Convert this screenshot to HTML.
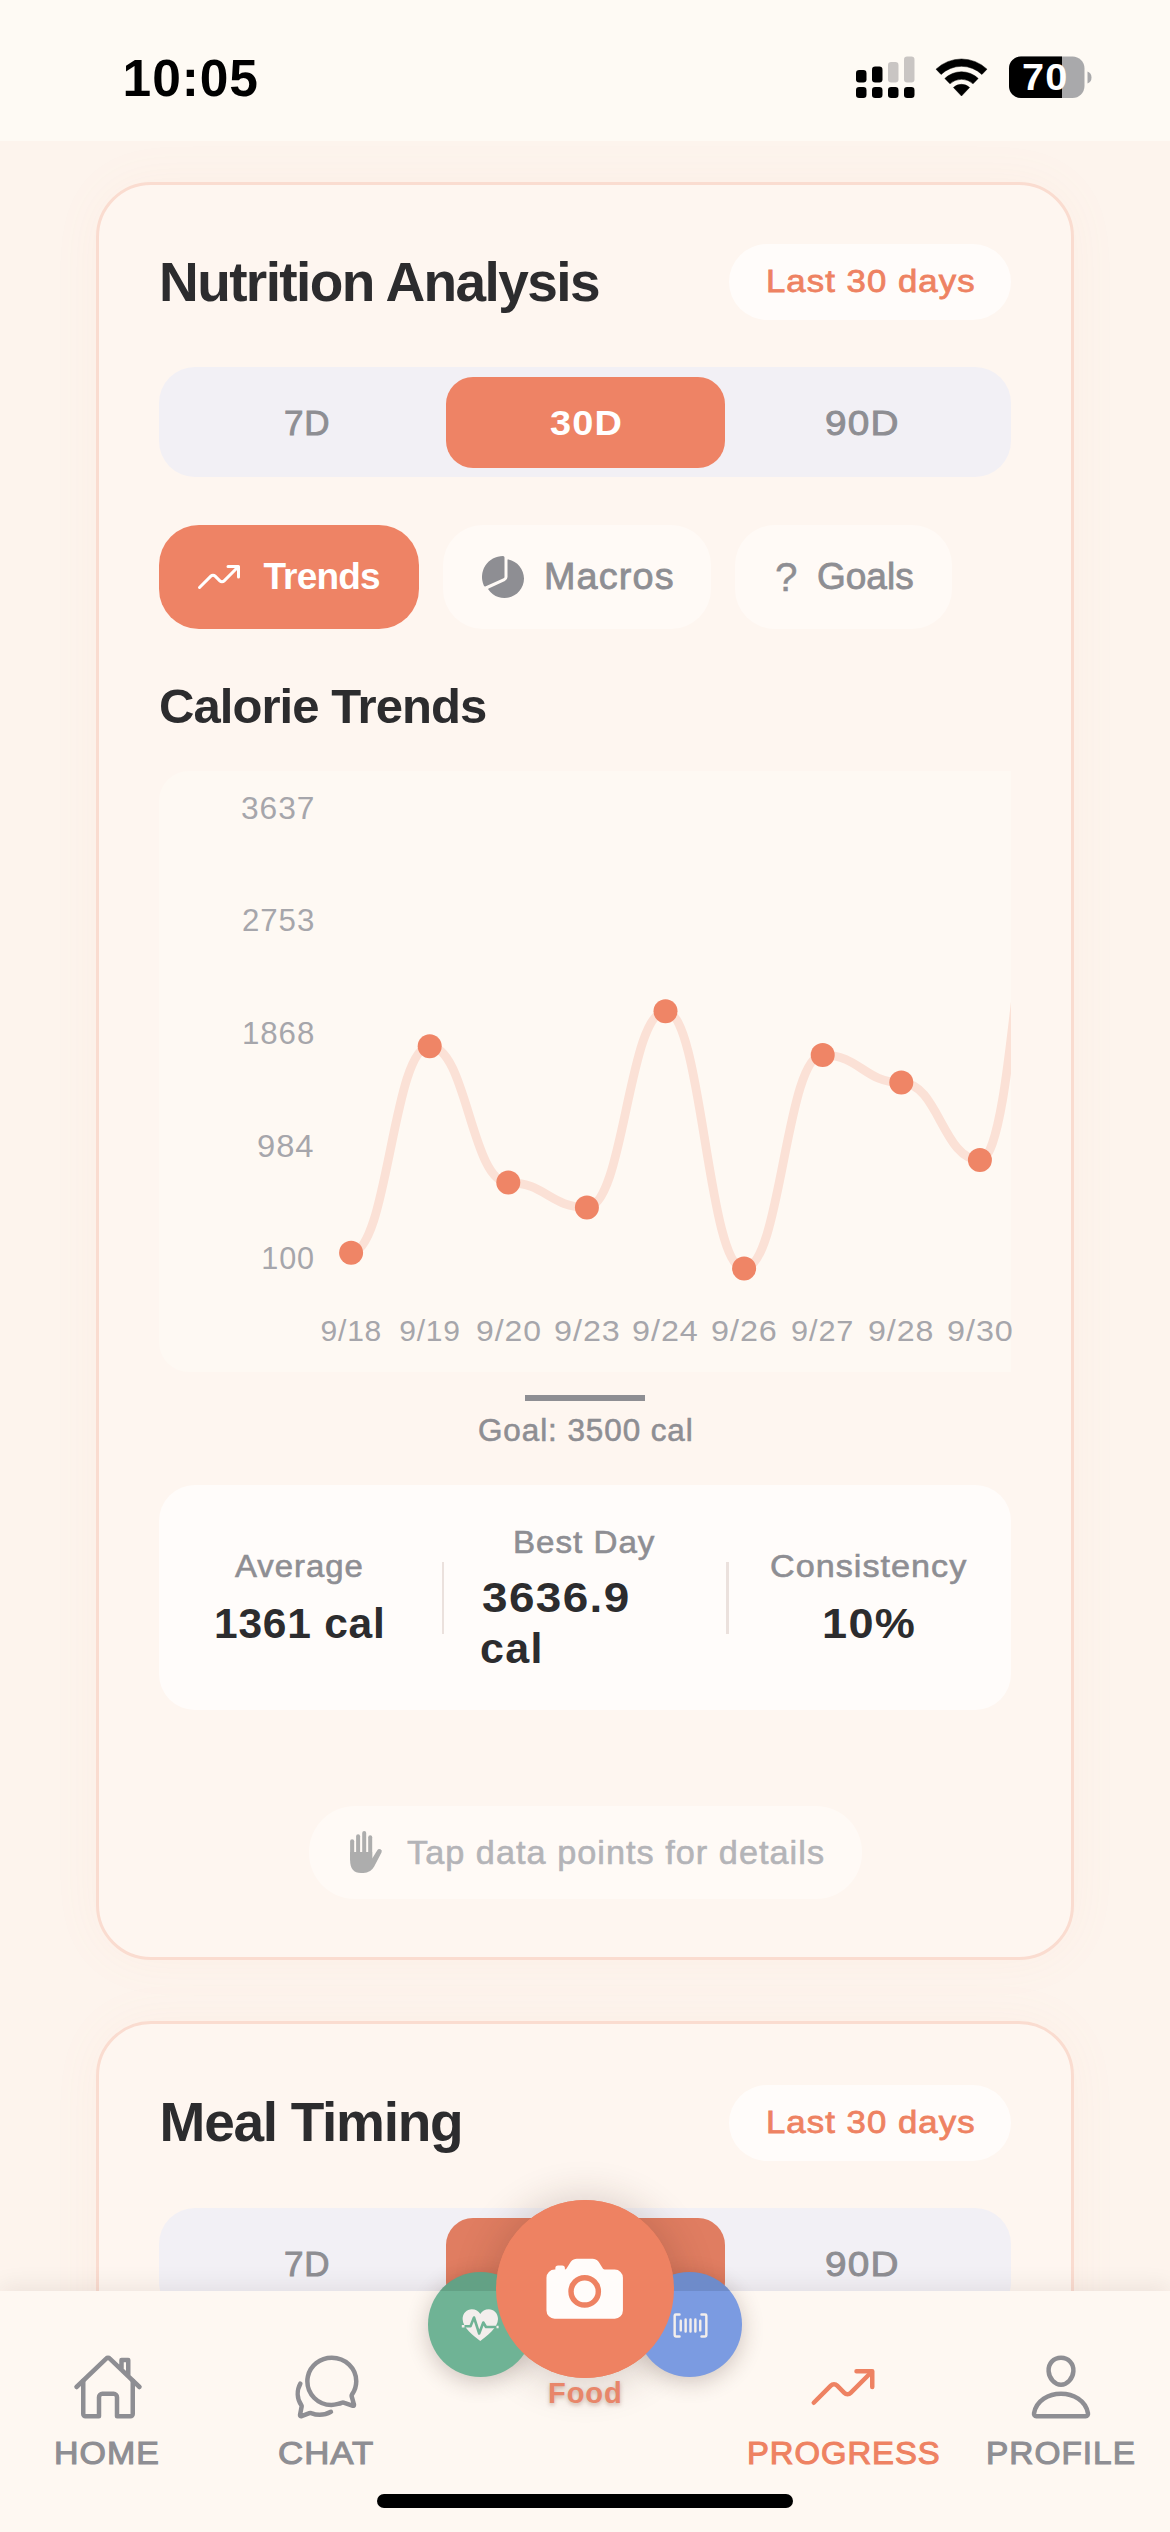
<!DOCTYPE html>
<html><head><meta charset="utf-8">
<style>
*{box-sizing:border-box;margin:0;padding:0}
html,body{width:1170px;height:2532px;overflow:hidden;background:#fdf4ed;font-family:"Liberation Sans",sans-serif}
.abs{position:absolute}
.t{position:absolute;white-space:nowrap;transform-origin:0 50%}
#screen{position:absolute;left:0;top:0;width:1170px;height:2532px;overflow:hidden;background:#fdf4ed}
#status{position:absolute;left:0;top:0;width:1170px;height:141px;background:#fefaf4}
.card{position:absolute;left:96px;width:978px;border:3px solid #fadcd0;border-radius:55px;background:#fef6f0;box-shadow:0 0 50px rgba(240,150,110,0.055)}
.pill{position:absolute;background:#fffcfa}
.seg{position:absolute;left:159px;width:852px;height:110px;border-radius:36px;background:#f2f0f5}
.segact{position:absolute;left:446px;width:278.5px;height:91px;border-radius:27px;background:#ee8365}
#tabbar{position:absolute;left:0;top:2291px;width:1170px;height:241px;background:#fef8f2;box-shadow:0 -5px 22px rgba(40,20,10,0.075)}
</style></head>
<body>
<div id="screen">
<div id="status"></div>
<svg class="abs" style="left:0;top:0" width="1170" height="141" viewBox="0 0 1170 141">
<g fill="#000">
<rect x="856" y="87" width="10.5" height="11" rx="3.2"/><rect x="872" y="87" width="10.5" height="11" rx="3.2"/><rect x="888" y="87" width="10.5" height="11" rx="3.2"/><rect x="904" y="87" width="10.5" height="11" rx="3.2"/>
<rect x="856" y="70" width="10.5" height="12.5" rx="3.2"/><rect x="872" y="66.5" width="10.5" height="16" rx="3.2"/>
</g>
<g fill="#c9c5c3"><rect x="888" y="62" width="10.5" height="20.5" rx="3.2"/><rect x="904" y="56.5" width="10.5" height="26" rx="3.2"/></g>
<path d="M936.03,69.16 A37,37 0 0 1 986.97,69.16 L981.94,74.46 A29.7,29.7 0 0 0 941.06,74.46 Z M944.84,78.45 A24.2,24.2 0 0 1 978.16,78.45 L973.06,83.81 A16.8,16.8 0 0 0 949.94,83.81 Z M961.50,96.00 L953.45,87.51 A11.7,11.7 0 0 1 969.55,87.51 Z" fill="#000" stroke="#000" stroke-width="0.5" stroke-linejoin="round"/>
<rect x="1009" y="56.5" width="75.5" height="41.5" rx="12" fill="#a9a9ab"/>
<path d="M1021,56.5 H1062 V98 H1021 A12,12 0 0 1 1009,86 V68.5 A12,12 0 0 1 1021,56.5 Z" fill="#000"/>
<path d="M1087.5,71.5 Q1091.5,73 1091.5,77.5 Q1091.5,82 1087.5,83.5 Z" fill="#a9a9ab"/>
</svg>

<!-- card 1 -->
<div class="card" style="top:181.5px;height:1778.5px"></div>
<div class="pill" style="left:729px;top:244px;width:282px;height:76px;border-radius:38px"></div>
<div class="seg" style="top:367px"></div>
<div class="segact" style="top:377px"></div>
<!-- tabs -->
<div class="abs" style="left:159px;top:525px;width:260px;height:104px;border-radius:40px;background:#ee8365"></div>
<div class="abs" style="left:442.7px;top:525px;width:268.3px;height:104px;border-radius:40px;background:#fffaf6"></div>
<div class="abs" style="left:734.6px;top:525px;width:217.2px;height:104px;border-radius:40px;background:#fffaf6"></div>
<!-- chart box -->
<div class="abs" style="left:159px;top:771px;width:852px;height:601px;border-radius:30px 0 0 30px;background:#fef9f3"></div>
<svg class="abs" style="left:159px;top:771px" width="852" height="601" viewBox="159 771 852 601"><path d="M351.1,1252.7 C388.0,1252.7 392.8,1046.3 429.7,1046.3 C466.6,1046.3 471.4,1182.6 508.3,1182.6 C545.2,1182.6 550.0,1207.4 586.9,1207.4 C623.8,1207.4 628.6,1011.3 665.5,1011.3 C702.4,1011.3 707.2,1268.5 744.1,1268.5 C781.0,1268.5 785.8,1054.9 822.7,1054.9 C859.6,1054.9 864.4,1082.6 901.3,1082.6 C938.2,1082.6 943.0,1160.0 979.9,1160.0 C1016.8,1160.0 1021.6,775.0 1058.5,775.0" fill="none" stroke="#fbe1d6" stroke-width="8.8" stroke-linecap="round" stroke-linejoin="round"/><circle cx="351.1" cy="1252.7" r="12" fill="#ef8566"/><circle cx="429.7" cy="1046.3" r="12" fill="#ef8566"/><circle cx="508.3" cy="1182.6" r="12" fill="#ef8566"/><circle cx="586.9" cy="1207.4" r="12" fill="#ef8566"/><circle cx="665.5" cy="1011.3" r="12" fill="#ef8566"/><circle cx="744.1" cy="1268.5" r="12" fill="#ef8566"/><circle cx="822.7" cy="1054.9" r="12" fill="#ef8566"/><circle cx="901.3" cy="1082.6" r="12" fill="#ef8566"/><circle cx="979.9" cy="1160.0" r="12" fill="#ef8566"/></svg>
<!-- goal legend -->
<div class="abs" style="left:525px;top:1394.5px;width:120px;height:6.5px;background:#8e8e93"></div>
<!-- stats card -->
<div class="abs" style="left:159px;top:1485px;width:852px;height:225px;border-radius:36px;background:#fffcfa"></div>
<div class="abs" style="left:441.5px;top:1562px;width:2.5px;height:72px;background:#ebe1dd"></div>
<div class="abs" style="left:726px;top:1562px;width:2.5px;height:72px;background:#ebe1dd"></div>
<!-- tap hint -->
<div class="abs" style="left:309px;top:1806px;width:552.5px;height:92.5px;border-radius:46px;background:#fffaf6"></div>

<!-- card 2 -->
<div class="card" style="top:2021px;height:700px"></div>
<div class="pill" style="left:729px;top:2085px;width:282px;height:76px;border-radius:38px"></div>
<div class="seg" style="top:2208px"></div>
<div class="segact" style="top:2218px;background:#e07d61"></div>

<div class="t" style="left:122.60px;top:47.46px;font-size:51.5px;line-height:62px;font-weight:700;color:#000;letter-spacing:0.91px;">10:05</div>
<div class="t" style="left:1022.24px;top:55.21px;font-size:37.5px;line-height:45px;font-weight:700;color:#fff;letter-spacing:1.12px;transform:scaleX(1.059);">70</div>
<div class="t" style="left:159.00px;top:248.94px;font-size:55px;line-height:66px;font-weight:700;color:#2c2c2e;letter-spacing:-1.59px;">Nutrition Analysis</div>
<div class="t" style="left:765.71px;top:262.48px;font-size:31.8px;line-height:39px;font-weight:400;color:#ee8262;letter-spacing:0.95px;-webkit-text-stroke:0.8px #ee8262;transform:scaleX(1.0932);">Last 30 days</div>
<div class="t" style="left:283.90px;top:402.37px;font-size:35px;line-height:42px;font-weight:400;color:#8e8e93;letter-spacing:0.93px;-webkit-text-stroke:0.9px #8e8e93;">7D</div>
<div class="t" style="left:550.00px;top:402.37px;font-size:35px;line-height:42px;font-weight:700;color:#fff;letter-spacing:1.05px;transform:scaleX(1.0841);">30D</div>
<div class="t" style="left:825.19px;top:402.37px;font-size:35px;line-height:42px;font-weight:400;color:#8e8e93;letter-spacing:1.05px;-webkit-text-stroke:0.9px #8e8e93;transform:scaleX(1.1073);">90D</div>
<div class="t" style="left:263.40px;top:554.18px;font-size:37px;line-height:45px;font-weight:700;color:#fff;letter-spacing:-0.83px;">Trends</div>
<div class="t" style="left:544.44px;top:554.18px;font-size:37px;line-height:45px;font-weight:400;color:#8e8e93;letter-spacing:1.11px;-webkit-text-stroke:0.8px #8e8e93;transform:scaleX(1.0215);">Macros</div>
<div class="t" style="left:774.59px;top:553.14px;font-size:40px;line-height:48px;font-weight:400;color:#8e8e93;letter-spacing:0px;-webkit-text-stroke:0.4px #8e8e93;transform:scaleX(1.01);">?</div>
<div class="t" style="left:816.90px;top:554.18px;font-size:37px;line-height:45px;font-weight:400;color:#8e8e93;letter-spacing:0.06px;-webkit-text-stroke:0.8px #8e8e93;">Goals</div>
<div class="t" style="left:159.00px;top:676.52px;font-size:49px;line-height:59px;font-weight:700;color:#2c2c2e;letter-spacing:-0.93px;">Calorie Trends</div>
<div class="t" style="left:240.66px;top:789.80px;font-size:30.6px;line-height:37px;font-weight:400;color:#a6a6ab;letter-spacing:0.92px;transform:scaleX(1.0364);">3637</div>
<div class="t" style="left:241.78px;top:902.40px;font-size:30.6px;line-height:37px;font-weight:400;color:#a6a6ab;letter-spacing:0.92px;transform:scaleX(1.0204);">2753</div>
<div class="t" style="left:241.76px;top:1015.00px;font-size:30.6px;line-height:37px;font-weight:400;color:#a6a6ab;letter-spacing:0.92px;transform:scaleX(1.0207);">1868</div>
<div class="t" style="left:256.53px;top:1127.60px;font-size:30.6px;line-height:37px;font-weight:400;color:#a6a6ab;letter-spacing:0.92px;transform:scaleX(1.0681);">984</div>
<div class="t" style="left:261.30px;top:1240.20px;font-size:30.6px;line-height:37px;font-weight:400;color:#a6a6ab;letter-spacing:0.84px;">100</div>
<div class="t" style="left:320.60px;top:1313.20px;font-size:30px;line-height:36px;font-weight:400;color:#a6a6ab;letter-spacing:0.77px;">9/18</div>
<div class="t" style="left:399.20px;top:1313.20px;font-size:30px;line-height:36px;font-weight:400;color:#a6a6ab;letter-spacing:0.77px;">9/19</div>
<div class="t" style="left:475.64px;top:1313.20px;font-size:30px;line-height:36px;font-weight:400;color:#a6a6ab;letter-spacing:0.9px;transform:scaleX(1.0639);">9/20</div>
<div class="t" style="left:553.82px;top:1313.20px;font-size:30px;line-height:36px;font-weight:400;color:#a6a6ab;letter-spacing:0.9px;transform:scaleX(1.0774);">9/23</div>
<div class="t" style="left:632.42px;top:1313.20px;font-size:30px;line-height:36px;font-weight:400;color:#a6a6ab;letter-spacing:0.9px;transform:scaleX(1.0774);">9/24</div>
<div class="t" style="left:711.02px;top:1313.20px;font-size:30px;line-height:36px;font-weight:400;color:#a6a6ab;letter-spacing:0.9px;transform:scaleX(1.0774);">9/26</div>
<div class="t" style="left:791.33px;top:1313.20px;font-size:30px;line-height:36px;font-weight:400;color:#a6a6ab;letter-spacing:0.9px;transform:scaleX(1.0218);">9/27</div>
<div class="t" style="left:868.38px;top:1313.20px;font-size:30px;line-height:36px;font-weight:400;color:#a6a6ab;letter-spacing:0.9px;transform:scaleX(1.0723);">9/28</div>
<div class="t" style="left:946.82px;top:1313.20px;font-size:30px;line-height:36px;font-weight:400;color:#a6a6ab;letter-spacing:0.9px;transform:scaleX(1.0774);">9/30</div>
<div class="t" style="left:477.89px;top:1412.26px;font-size:31px;line-height:38px;font-weight:400;color:#8e8e93;letter-spacing:0.93px;-webkit-text-stroke:0.6px #8e8e93;transform:scaleX(1.0128);">Goal: 3500 cal</div>
<div class="t" style="left:235.40px;top:1547.09px;font-size:31.5px;line-height:38px;font-weight:400;color:#8e8e93;letter-spacing:0.94px;-webkit-text-stroke:0.6px #8e8e93;transform:scaleX(1.0442);">Average</div>
<div class="t" style="left:214.00px;top:1597.77px;font-size:42.5px;line-height:51px;font-weight:700;color:#2c2c2e;letter-spacing:0.77px;">1361 cal</div>
<div class="t" style="left:512.50px;top:1522.79px;font-size:31.5px;line-height:38px;font-weight:400;color:#8e8e93;letter-spacing:0.94px;-webkit-text-stroke:0.6px #8e8e93;transform:scaleX(1.0523);">Best Day</div>
<div class="t" style="left:481.50px;top:1572.07px;font-size:42.5px;line-height:51px;font-weight:700;color:#2c2c2e;letter-spacing:1.27px;transform:scaleX(1.0794);">3636.9</div>
<div class="t" style="left:480.49px;top:1623.27px;font-size:42.5px;line-height:51px;font-weight:700;color:#2c2c2e;letter-spacing:1.27px;transform:scaleX(1.0117);">cal</div>
<div class="t" style="left:769.92px;top:1547.09px;font-size:31.5px;line-height:38px;font-weight:400;color:#8e8e93;letter-spacing:0.94px;-webkit-text-stroke:0.6px #8e8e93;transform:scaleX(1.0845);">Consistency</div>
<div class="t" style="left:821.88px;top:1597.77px;font-size:42.5px;line-height:51px;font-weight:700;color:#2c2c2e;letter-spacing:1.27px;transform:scaleX(1.061);">10%</div>
<div class="t" style="left:407.00px;top:1831.72px;font-size:34px;line-height:41px;font-weight:400;color:#b4b4b8;letter-spacing:1.02px;-webkit-text-stroke:0.6px #b4b4b8;transform:scaleX(1.0073);">Tap data points for details</div>
<div class="t" style="left:159.60px;top:2089.44px;font-size:55px;line-height:66px;font-weight:700;color:#2c2c2e;letter-spacing:-1.28px;">Meal Timing</div>
<div class="t" style="left:765.71px;top:2103.48px;font-size:31.8px;line-height:39px;font-weight:400;color:#ee8262;letter-spacing:0.95px;-webkit-text-stroke:0.8px #ee8262;transform:scaleX(1.0932);">Last 30 days</div>
<div class="t" style="left:283.90px;top:2243.37px;font-size:35px;line-height:42px;font-weight:400;color:#8e8e93;letter-spacing:0.93px;-webkit-text-stroke:0.9px #8e8e93;">7D</div>
<div class="t" style="left:825.19px;top:2243.37px;font-size:35px;line-height:42px;font-weight:400;color:#8e8e93;letter-spacing:1.05px;-webkit-text-stroke:0.9px #8e8e93;transform:scaleX(1.1073);">90D</div>

<svg class="abs" style="left:194.6px;top:553.2px" width="48" height="48" viewBox="0 0 512 512"><g fill="none" stroke="#fff" stroke-width="32" stroke-linecap="round" stroke-linejoin="round"><path d="M352 144h112v112" /><path d="M48 368l121.370-121.370a32 32 0 0145.260 0l50.740 50.740a32 32 0 0045.260 0L448 160"/></g></svg>
<svg class="abs" style="left:479.1px;top:552.9px" width="48" height="48" viewBox="0 0 512 512"><g fill="#8e8e93"><path d="M66.100 357a16 16 0 01-14.610-9.460A224 224 0 01256 32a16 16 0 0116 16v208a16 16 0 01-9.470 14.610l-189.900 84.950A15.930 15.930 0 0166.100 357z"/><path d="M313.590 68.180A8 8 0 00304 76v180a48.070 48.070 0 01-28.400 43.820L103.130 377.690a8 8 0 00-3.350 11.810 208.420 208.420 0 0048.460 50.410A206.320 206.320 0 00272 480c114.690 0 208-93.310 208-208 0-100.450-71.580-184.500-166.410-203.820z"/></g></svg>
<svg class="abs" style="left:340px;top:1820px" width="60" height="64" viewBox="340 1820 60 64"><g fill="#adadad">
<rect x="350.1" y="1839.2" width="4.1" height="22" rx="2.05"/>
<rect x="356.1" y="1834.2" width="4" height="26" rx="2"/>
<rect x="362.2" y="1831.1" width="4" height="28" rx="2"/>
<rect x="368.2" y="1835.3" width="4" height="26" rx="2"/>
<path d="M350.1,1852 H372.2 V1858.5 L377.3,1850.3 A2.3,2.3 0 0 1 381.5,1852.5 L374.2,1866.5 Q370.5,1873 363.5,1873 H361 Q350.1,1873 350.1,1860 Z"/>
</g></svg>

<!-- tab bar -->
<div id="tabbar"></div>
<div class="abs" style="left:495.6px;top:2199.7px;width:178px;height:178px;border-radius:50%;background:#ee8262;box-shadow:0 3px 40px 4px rgba(60,35,25,0.20)"></div>
<div class="abs" style="left:428.2px;top:2272.3px;width:104.6px;height:104.6px;border-radius:50%;background:#6fb395;box-shadow:0 5px 22px rgba(60,35,25,0.24)"></div>
<div class="abs" style="left:637.2px;top:2272.3px;width:104.6px;height:104.6px;border-radius:50%;background:#7b9be1;box-shadow:0 5px 22px rgba(60,35,25,0.24)"></div>
<div class="abs" style="left:428.2px;top:2272.3px;width:104.6px;height:18.7px;overflow:hidden"><div style="width:104.6px;height:104.6px;border-radius:50%;background:rgba(20,30,25,0.12)"></div></div>
<div class="abs" style="left:637.2px;top:2272.3px;width:104.6px;height:18.7px;overflow:hidden"><div style="width:104.6px;height:104.6px;border-radius:50%;background:rgba(20,25,40,0.12)"></div></div>
<svg class="abs" style="left:460px;top:2306px" width="42" height="38" viewBox="460 2306 42 38">
<path d="M480.3,2341 C474,2336 462.6,2328 462.6,2319 C462.6,2313 467,2309.2 471.8,2309.2 C475.5,2309.2 478.6,2311.2 480.3,2314 C482,2311.2 485.1,2309.2 488.8,2309.2 C493.6,2309.2 498,2313 498,2319 C498,2328 486.6,2336 480.3,2341 Z" fill="#f3eeec"/>
<path d="M461,2326.2 H470.5 L474,2317.5 L479.2,2333.5 L483.3,2322.5 L486,2327 H499.5" fill="none" stroke="#6fb395" stroke-width="2.6" stroke-linejoin="round" stroke-linecap="butt"/>
<path d="M461.8,2326.2 H464.5 M496.5,2327 H498.6" stroke="#f3eeec" stroke-width="2.6" fill="none"/>
</svg>
<svg class="abs" style="left:670.6px;top:2305.7px" width="39" height="39" viewBox="0 0 512 512"><g fill="none" stroke="#f3eeec" stroke-width="32" stroke-linecap="round" stroke-linejoin="round"><path d="M400 400h48a16 16 0 0016-16V128a16 16 0 00-16-16h-48M112 112H64a16 16 0 00-16 16v256a16 16 0 0016 16h48M384 192v128M320 176v160M256 176v160M192 176v160M128 192v128"/></g></svg>
<div class="abs" style="left:495.6px;top:2199.7px;width:178px;height:178px;border-radius:50%;background:#ee8262"></div>
<svg class="abs" style="left:541.4px;top:2245.1px" width="87.4" height="87.4" viewBox="0 0 512 512"><g fill="#fffcfa"><circle cx="256" cy="272" r="64"/><path d="M432 144h-59c-3 0-6.720-1.940-9.620-5l-25.940-40.940a15.520 15.520 0 00-1.370-1.850C327.110 85.760 315 80 302 80h-92c-13 0-25.110 5.760-34.070 16.210a15.520 15.520 0 00-1.370 1.850l-25.940 41c-2.220 2.420-5.340 5-8.620 5v-8a16 16 0 00-16-16h-24a16 16 0 00-16 16v8h-4a48.050 48.050 0 00-48 48V384a48.050 48.050 0 0048 48h352a48.050 48.050 0 0048-48V192a48.050 48.050 0 00-48-48zM256 368a96 96 0 1196-96 96.110 96.110 0 01-96 96z"/></g></svg>
<svg class="abs" style="left:72.2px;top:2350.6px" width="72" height="72" viewBox="0 0 512 512"><g fill="none" stroke="#8e8e93" stroke-width="32" stroke-linecap="round" stroke-linejoin="round"><path d="M80 212v236a16 16 0 0016 16h96V328a24 24 0 0124-24h80a24 24 0 0124 24v136h96a16 16 0 0016-16V212"/><path d="M480 256L266.890 52c-5-5.280-16.690-5.340-21.780 0L32 256M400 179V64h-48v69"/></g></svg>
<svg class="abs" style="left:290.5px;top:2350.6px" width="72" height="72" viewBox="0 0 512 512"><g fill="none" stroke="#8e8e93" stroke-width="32" stroke-linecap="round" stroke-linejoin="round"><path d="M431 320.600c-1-3.600 1.200-8.600 3.300-12.200a33.680 33.680 0 012.100-3.100A162 162 0 00464 215c.300-92.200-77.500-167-173.700-167-83.900 0-153.900 57.100-170.300 132.900a160.700 160.700 0 00-3.700 34.200c0 92.300 74.800 169.100 171 169.100 15.300 0 35.900-4.600 47.200-7.700s22.500-7.200 25.400-8.300a26.440 26.440 0 019.300-1.700 26 26 0 0110.100 2l56.700 20.100a13.520 13.520 0 003.900 1 8 8 0 008-8 12.850 12.850 0 00-.500-2.700z"/><path d="M66.460 232a146.230 146.230 0 006.390 152.670c2.310 3.490 3.610 6.190 3.210 8s-11.930 61.870-11.930 61.870a8 8 0 002.710 7.680A8.170 8.170 0 0072 464a7.260 7.260 0 002.910-.600l56.210-22a15.700 15.700 0 0112 .200c18.940 7.380 39.880 12 60.830 12A159.210 159.210 0 00284 432.110"/></g></svg>
<svg class="abs" style="left:807.2px;top:2350.6px" width="72" height="72" viewBox="0 0 512 512"><g fill="none" stroke="#ee8262" stroke-width="32" stroke-linecap="round" stroke-linejoin="round"><path d="M352 144h112v112" /><path d="M48 368l121.370-121.370a32 32 0 0145.260 0l50.740 50.740a32 32 0 0045.260 0L448 160"/></g></svg>
<svg class="abs" style="left:1025px;top:2350.6px" width="72" height="72" viewBox="0 0 512 512"><g fill="none" stroke="#8e8e93" stroke-width="32" stroke-linecap="round" stroke-linejoin="round"><path d="M344 144c-3.920 52.870-44 96-88 96s-84.150-43.120-88-96c-4-55 35-96 88-96s92 42 88 96z"/><path d="M256 304c-87 0-175.300 48-191.640 138.600C62.390 453.520 68.570 464 80 464h352c11.440 0 17.620-10.480 15.650-21.400C431.300 352 343 304 256 304z"/></g></svg>
<div class="t" style="left:54.38px;top:2434.01px;font-size:32px;line-height:39px;font-weight:400;color:#8e8e93;letter-spacing:0.96px;-webkit-text-stroke:1.1px #8e8e93;transform:scaleX(1.0593);">HOME</div>
<div class="t" style="left:277.71px;top:2434.01px;font-size:32px;line-height:39px;font-weight:400;color:#8e8e93;letter-spacing:0.96px;-webkit-text-stroke:1.1px #8e8e93;transform:scaleX(1.0864);">CHAT</div>
<div class="t" style="left:746.75px;top:2434.01px;font-size:32px;line-height:39px;font-weight:400;color:#ee8262;letter-spacing:0.96px;-webkit-text-stroke:1.1px #ee8262;transform:scaleX(1.0241);">PROGRESS</div>
<div class="t" style="left:985.91px;top:2434.01px;font-size:32px;line-height:39px;font-weight:400;color:#8e8e93;letter-spacing:0.96px;-webkit-text-stroke:1.1px #8e8e93;transform:scaleX(1.0442);">PROFILE</div>
<div class="t" style="left:547.70px;top:2376.45px;font-size:29px;line-height:35px;font-weight:700;color:#e8866a;letter-spacing:0.87px;text-shadow:0 2px 4px rgba(120,60,40,0.35);transform:scaleX(1.0049);">Food</div>
<div class="abs" style="left:377px;top:2493.5px;width:416px;height:14.5px;border-radius:8px;background:#000"></div>
</div>
</body></html>
